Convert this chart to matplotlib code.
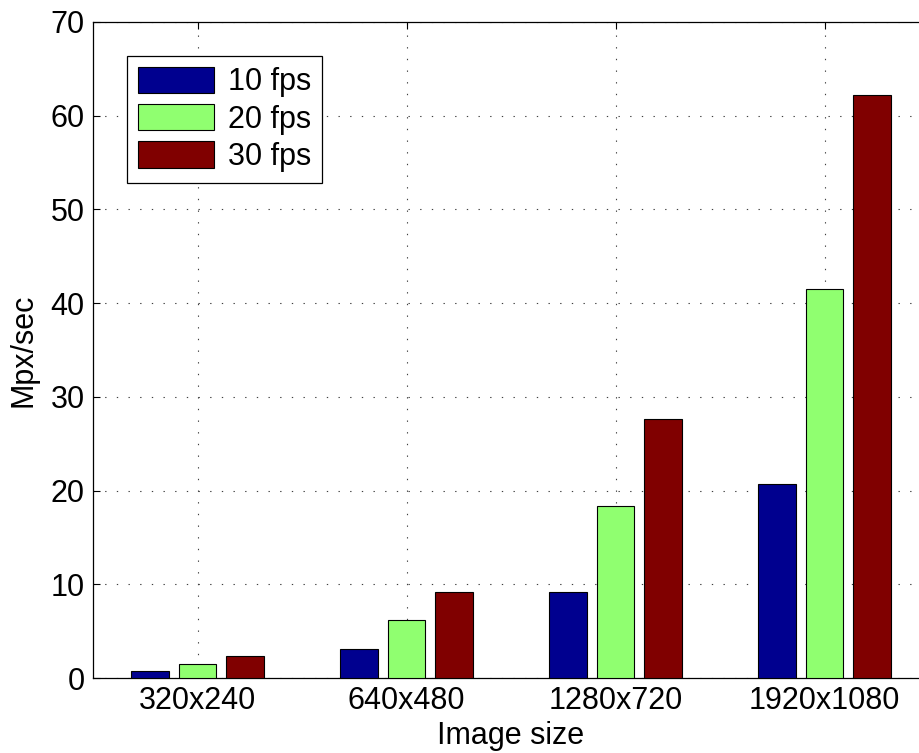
import numpy as np
import matplotlib.pyplot as plt
from matplotlib.patches import Patch

# Throughput for each image size at three frame rates
sizes = ['320x240', '640x480', '1280x720', '1920x1080']
fps_labels = ['10 fps', '20 fps', '30 fps']
mpx_10fps = [0.77, 3.07, 9.22, 20.7]
mpx_20fps = [1.54, 6.14, 18.4, 41.5]
mpx_30fps = [2.30, 9.22, 27.6, 62.2]
colors = ['#00008f', '#90ff70', '#800000']

plt.rcParams['font.family'] = ['Liberation Sans', 'DejaVu Sans']
plt.rcParams['font.size'] = 22

fig = plt.figure(figsize=(9.2, 7.53), dpi=100)
ax = fig.add_axes([0.1011, 0.0996, 0.9087, 0.8712])

x = np.arange(1, len(sizes) + 1)
width = 0.18
offset = 0.226
for i, vals in enumerate([mpx_10fps, mpx_20fps, mpx_30fps]):
    ax.bar(x + (i - 1) * offset, vals, width, color=colors[i],
           edgecolor='k', linewidth=0.8, zorder=3)

ax.set_xlim(0.5, 4.5)
ax.set_ylim(0, 70)
ax.set_xticks(x)
ax.set_xticklabels(sizes)
ax.set_yticks(np.arange(0, 71, 10))
ax.tick_params(direction='in', length=5, width=0.8, top=True, right=True)
ax.tick_params(axis='x', pad=6)
ax.tick_params(axis='y', pad=6)
for s in ax.spines.values():
    s.set_linewidth(0.9)

ax.grid(True, color='0.25', linewidth=0.8, linestyle=(0, (1.2, 9.3)), zorder=0)
ax.set_axisbelow(True)

ax.set_xlabel('Image size', labelpad=3.5)
ax.set_ylabel('Mpx/sec', labelpad=9)

handles = [Patch(facecolor=c, edgecolor='k', linewidth=0.8) for c in colors]
leg = ax.legend(handles, fps_labels, loc='upper left',
                bbox_to_anchor=(0.0407, 0.948), fancybox=False,
                edgecolor='k', framealpha=1, borderpad=0.35,
                handlelength=2.5, handleheight=0.94, labelspacing=0.22,
                handletextpad=0.45, borderaxespad=0)
leg.get_frame().set_linewidth(0.9)

fig.savefig('out.png', dpi=100)
